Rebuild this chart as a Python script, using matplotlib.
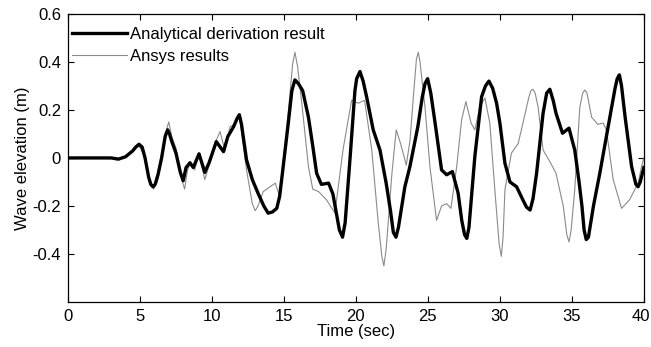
import matplotlib
matplotlib.use("Agg")
import matplotlib.pyplot as plt
import matplotlib.transforms as mtransforms

plt.rcParams['font.family'] = ['Liberation Sans', 'DejaVu Sans']

# Analytical derivation result (time, elevation)
t_analytical = [0, 3.0, 3.5, 4.0, 4.5, 4.7, 4.93, 5.15, 5.35, 5.6, 5.75, 5.9, 6.05, 6.25,
                6.5, 6.75, 6.92, 7.05, 7.2, 7.5, 7.8, 8.0, 8.2, 8.47, 8.7, 9.1, 9.5, 9.8,
                10.3, 10.8, 11.1, 11.5, 11.75, 11.9, 12.05, 12.4, 12.8, 13.2, 13.6, 13.9,
                14.2, 14.5, 14.7, 14.9, 15.3, 15.55, 15.76, 16.0, 16.3, 16.7, 17.0, 17.27,
                17.6, 18.1, 18.4, 18.7, 18.85, 19.07, 19.25, 19.6, 19.93, 20.05, 20.28,
                20.5, 20.74, 21.2, 21.67, 22.1, 22.4, 22.6, 22.78, 22.95, 23.4, 23.75,
                24.3, 24.6, 24.8, 24.98, 25.2, 25.5, 25.95, 26.3, 26.7, 27.1, 27.35,
                27.55, 27.7, 27.85, 28.26, 28.73, 29.0, 29.24, 29.5, 29.77, 30.0, 30.35,
                30.7, 31.16, 31.6, 31.85, 32.1, 32.3, 32.55, 33.0, 33.25, 33.47, 33.7,
                33.9, 34.35, 34.8, 35.2, 35.5, 35.7, 35.85, 36.0, 36.15, 36.5, 36.94,
                37.6, 38.0, 38.15, 38.3, 38.45, 38.7, 39.15, 39.45, 39.6, 39.75, 39.9, 40.0]
y_analytical = [0, 0, -0.005, 0.005, 0.03, 0.045, 0.057, 0.045, 0.0, -0.08, -0.11, -0.12,
                -0.11, -0.07, 0.0, 0.09, 0.117, 0.1, 0.07, 0.02, -0.06, -0.095, -0.04,
                -0.02, -0.04, 0.017, -0.06, -0.02, 0.068, 0.026, 0.089, 0.13, 0.165, 0.18,
                0.14, -0.008, -0.09, -0.147, -0.2, -0.23, -0.225, -0.21, -0.16, -0.06,
                0.145, 0.28, 0.325, 0.31, 0.28, 0.17, 0.05, -0.064, -0.11, -0.105, -0.15,
                -0.25, -0.3, -0.33, -0.27, 0.006, 0.28, 0.33, 0.36, 0.32, 0.255, 0.117,
                0.033, -0.105, -0.22, -0.31, -0.33, -0.29, -0.12, -0.036, 0.13, 0.25,
                0.31, 0.33, 0.27, 0.145, -0.05, -0.07, -0.057, -0.147, -0.26, -0.32,
                -0.335, -0.29, 0.006, 0.255, 0.3, 0.32, 0.29, 0.228, 0.145, -0.022, -0.1,
                -0.12, -0.175, -0.205, -0.217, -0.17, -0.064, 0.186, 0.27, 0.286, 0.24,
                0.186, 0.103, 0.124, 0.033, -0.1, -0.2, -0.3, -0.34, -0.33, -0.2, -0.064,
                0.158, 0.29, 0.33, 0.346, 0.3, 0.17, -0.036, -0.11, -0.12, -0.1, -0.064,
                -0.04]

# Ansys results (time, elevation)
t_ansys = [0, 3.0, 3.5, 4.0, 4.5, 4.93, 5.3, 5.6, 5.95, 6.2, 6.5, 6.85, 7.0, 7.2, 7.5,
           7.8, 8.1, 8.3, 8.5, 8.8, 9.1, 9.5, 9.8, 10.2, 10.56, 10.9, 11.25, 11.6, 11.9,
           12.4, 12.8, 13.0, 13.2, 13.56, 14.4, 14.7, 15.3, 15.6, 15.76, 15.95, 16.27,
           16.7, 17.0, 17.4, 17.96, 18.54, 19.1, 19.7, 20.16, 20.6, 21.1, 21.55, 21.8,
           21.94, 22.1, 22.5, 22.8, 23.1, 23.5, 23.75, 24.05, 24.2, 24.33, 24.45, 24.8,
           25.14, 25.6, 25.95, 26.3, 26.6, 27.0, 27.34, 27.64, 28.0, 28.26, 28.6, 28.96,
           29.3, 29.65, 29.95, 30.1, 30.22, 30.35, 30.8, 31.27, 31.6, 32.0, 32.15, 32.3,
           32.45, 32.66, 33.0, 33.47, 33.9, 34.4, 34.65, 34.8, 34.95, 35.2, 35.55, 35.75,
           35.9, 36.05, 36.37, 36.8, 37.17, 37.4, 37.87, 38.45, 39.0, 39.6, 39.84, 40.0]
y_ansys = [0, 0, -0.005, 0.005, 0.03, 0.05, 0.01, -0.09, -0.13, -0.1, 0.0, 0.12, 0.15,
           0.09, 0.04, -0.07, -0.13, -0.05, -0.02, -0.05, 0.02, -0.09, -0.03, 0.06, 0.11,
           0.03, 0.13, 0.14, 0.18, -0.05, -0.19, -0.22, -0.2, -0.14, -0.105, -0.16, 0.19,
           0.39, 0.44, 0.38, 0.21, -0.036, -0.13, -0.14, -0.175, -0.23, 0.033, 0.24,
           0.228, 0.24, 0.033, -0.27, -0.41, -0.45, -0.38, -0.064, 0.117, 0.06, -0.03,
           0.07, 0.3, 0.41, 0.44, 0.4, 0.21, -0.036, -0.26, -0.2, -0.19, -0.21, -0.036,
           0.158, 0.235, 0.145, 0.117, 0.21, 0.25, 0.145, -0.133, -0.36, -0.41, -0.33,
           -0.133, 0.02, 0.06, 0.145, 0.25, 0.28, 0.286, 0.27, 0.21, 0.033, -0.015,
           -0.064, -0.2, -0.32, -0.35, -0.3, -0.133, 0.21, 0.27, 0.283, 0.27, 0.17, 0.14,
           0.145, 0.117, -0.09, -0.21, -0.175, -0.105, -0.036, 0.0]

x_ticks = [0, 5, 10, 15, 20, 25, 30, 35, 40]
y_ticks = [-0.4, -0.2, 0, 0.2, 0.4, 0.6]
y_tick_labels = ['-0.4', '-0.2', '0', '0.2', '0.4', '0.6']

fig = plt.figure(figsize=(6.51, 3.47), dpi=100)
ax = fig.add_axes([0.1045, 0.1297, 0.8845, 0.8303])

ax.plot(t_analytical, y_analytical, color='black', lw=2.4, solid_joinstyle='round',
        label='Analytical derivation result', zorder=3)
ax.plot(t_ansys, y_ansys, color='#8a8a8a', lw=0.8, label='Ansys results', zorder=2)

ax.set_xlim(0, 40)
ax.set_ylim(-0.6, 0.6)
ax.set_xticks(x_ticks)
ax.set_yticks(y_ticks)
ax.set_yticklabels(y_tick_labels)
ax.tick_params(direction='in', top=True, right=True, length=4, width=0.8,
               labelsize=12, pad=5)
for s in ax.spines.values():
    s.set_linewidth(0.9)

# keep the last x tick label inside the figure edge
last = ax.get_xticklabels()[-1]
last.set_transform(last.get_transform() +
                   mtransforms.ScaledTranslation(-3 / 100, 0, fig.dpi_scale_trans))

ax.set_xlabel('Time (sec)', fontsize=12, labelpad=0)
ax.set_ylabel('Wave elevation (m)', fontsize=12, labelpad=2)

leg = ax.legend(loc='upper left', frameon=False, fontsize=12, handlelength=3.3,
                handletextpad=0.2, borderaxespad=0.0, labelspacing=0.42,
                bbox_to_anchor=(-0.0047, 0.978))

fig.savefig('out.png', dpi=100)
